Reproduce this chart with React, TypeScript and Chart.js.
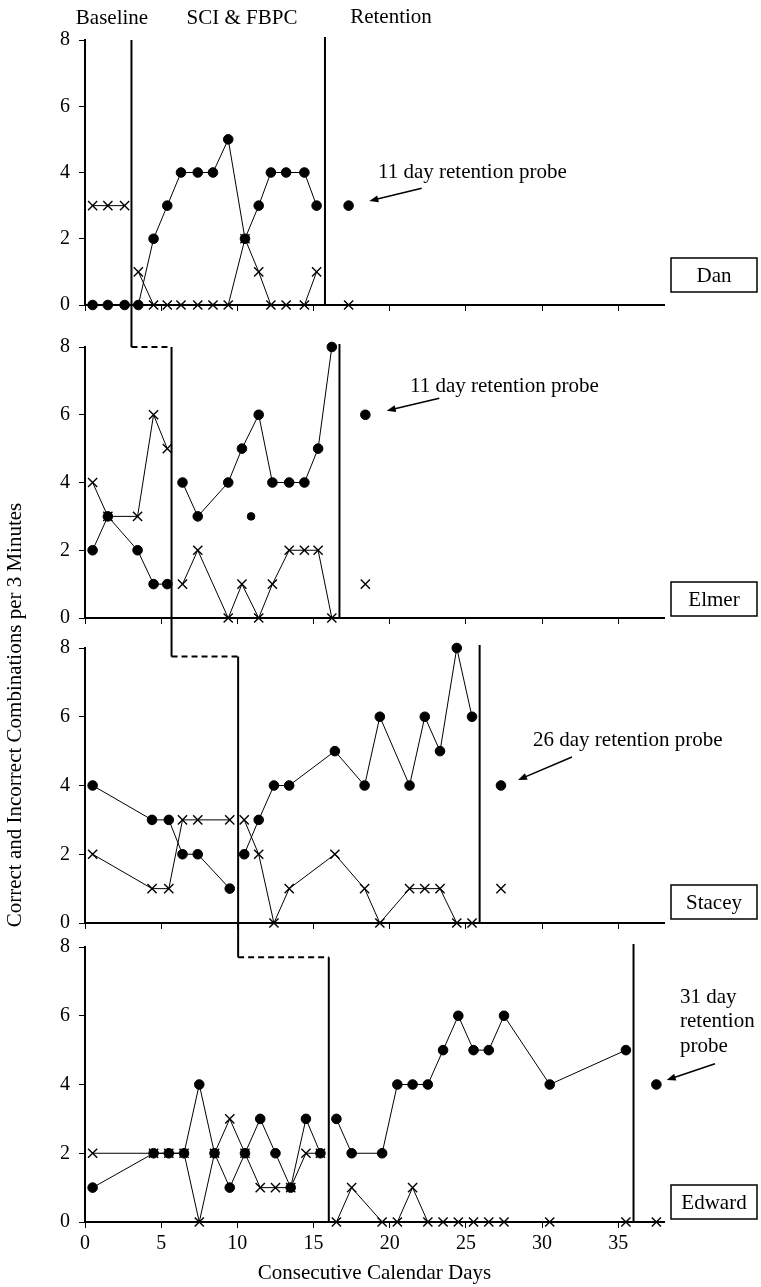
import React, { useEffect, useRef } from 'react';
import { Chart, registerables } from 'chart.js';
Chart.register(...registerables);

// ---------------- data ----------------
const danBaseDays = [0.5, 1.5, 2.6];
const danBaseCorrect = [0, 0, 0];
const danBaseIncorrect = [3, 3, 3];
const danTreatDays = [3.5, 4.5, 5.4, 6.3, 7.4, 8.4, 9.4, 10.5, 11.4, 12.2, 13.2, 14.4, 15.2];
const danTreatCorrect = [0, 2, 3, 4, 4, 4, 5, 2, 3, 4, 4, 4, 3];
const danTreatIncorrect = [1, 0, 0, 0, 0, 0, 0, 2, 1, 0, 0, 0, 1];
const danRetDays = [17.3];
const danRetCorrect = [3];
const danRetIncorrect = [0];
const danPhases = [3.05, 15.75];

const elmerBaseDays = [0.5, 1.5, 3.45, 4.5, 5.4];
const elmerBaseCorrect = [2, 3, 2, 1, 1];
const elmerBaseIncorrect = [4, 3, 3, 6, 5];
const elmerTreatDays = [6.4, 7.4, 9.4, 10.3, 11.4, 12.3, 13.4, 14.4, 15.3, 16.2];
const elmerTreatCorrect = [4, 3, 4, 5, 6, 4, 4, 4, 5, 8];
const elmerTreatIncorrect = [1, 2, 0, 1, 0, 1, 2, 2, 2, 0];
const elmerStrayDays = [10.9];
const elmerStrayCorrect = [3];
const elmerRetDays = [18.4];
const elmerRetCorrect = [6];
const elmerRetIncorrect = [1];
const elmerPhases = [5.68, 16.7];

const staceyBaseDays = [0.5, 4.4, 5.5, 6.4, 7.4, 9.5];
const staceyBaseCorrect = [4, 3, 3, 2, 2, 1];
const staceyBaseIncorrect = [2, 1, 1, 3, 3, 3];
const staceyTreatDays = [10.45, 11.4, 12.4, 13.4, 16.4, 18.35, 19.35, 21.3, 22.3, 23.3, 24.4, 25.4];
const staceyTreatCorrect = [2, 3, 4, 4, 5, 4, 6, 4, 6, 5, 8, 6];
const staceyTreatIncorrect = [3, 2, 0, 1, 2, 1, 0, 1, 1, 1, 0, 0];
const staceyRetDays = [27.3];
const staceyRetCorrect = [4];
const staceyRetIncorrect = [1];
const staceyPhases = [10.05, 25.9];

const edwardBaseDays = [0.5, 4.5, 5.5, 6.5, 7.5, 8.5, 9.5, 10.5, 11.5, 12.5, 13.5, 14.5, 15.45];
const edwardBaseCorrect = [1, 2, 2, 2, 4, 2, 1, 2, 3, 2, 1, 3, 2];
const edwardBaseIncorrect = [2, 2, 2, 2, 0, 2, 3, 2, 1, 1, 1, 2, 2];
const edwardTreatDays = [16.5, 17.5, 19.5, 20.5, 21.5, 22.5, 23.5, 24.5, 25.5, 26.5, 27.5, 30.5, 35.5];
const edwardTreatCorrect = [3, 2, 2, 4, 4, 4, 5, 6, 5, 5, 6, 4, 5];
const edwardTreatIncorrect = [0, 1, 0, 0, 1, 0, 0, 0, 0, 0, 0, 0, 0];
const edwardRetDays = [37.5];
const edwardRetCorrect = [4];
const edwardRetIncorrect = [0];
const edwardPhases = [16, 36];

const participants = ['Dan', 'Elmer', 'Stacey', 'Edward'];
const phaseLabels = ['Baseline', 'SCI & FBPC', 'Retention'];
const probeTexts = [['11 day retention probe'], ['11 day retention probe'], ['26 day retention probe'], ['31 day', 'retention', 'probe']];
const xTicksMax = 38;
const yTicksMax = 8;
const xTitle = 'Consecutive Calendar Days';
const yTitle = 'Correct and Incorrect Combinations per 3 Minutes';
const linkLevels = [null, 8, 7.75, 7.7];

// ---------------- layout / style ----------------
const W = 761;
const H = 1287;
const FONT = '"Liberation Serif", "DejaVu Serif", serif';
const PLOT_LEFT = 85;
const PLOT_RIGHT = 664;
const X_BOX_H = 64;
const PANEL_BOUNDS = [
  { top: 40, bottom: 305 },
  { top: 347, bottom: 618 },
  { top: 648, bottom: 923 },
  { top: 947, bottom: 1222 },
];
const NAME_BOXES = [
  { x: 671, y: 258, w: 86, h: 34 },
  { x: 671, y: 582, w: 86, h: 34 },
  { x: 671, y: 885, w: 86, h: 34 },
  { x: 671, y: 1185, w: 86, h: 34 },
];
const PROBE_TEXT_POS = [
  { x: 378, y: 172, lh: 0 },
  { x: 410, y: 386, lh: 0 },
  { x: 533, y: 740, lh: 0 },
  { x: 680, y: 997, lh: 24.5 },
];
const ARROWS = [
  [421.7, 188.3, 369.3, 201],
  [439.3, 398.3, 386.7, 410.7],
  [572, 757, 518, 780],
  [715, 1063.7, 666.7, 1080],
];
const PHASE_LABEL_POS = [
  { x: 112, y: 18 },
  { x: 242, y: 18 },
  { x: 391, y: 17 },
];
const Y_TITLE_POS = { x: 15, y: 715 };

type Pt = { x: number; y: number | null };
function series(parts: [number[], number[]][]): Pt[] {
  const out: Pt[] = [];
  parts.forEach(([days, vals], i) => {
    if (i > 0) {
      const prev = out[out.length - 1];
      out.push({ x: (prev.x + days[0]) / 2, y: null });
    }
    days.forEach((d, j) => out.push({ x: d, y: vals[j] }));
  });
  return out;
}

const PANELS = [
  {
    correct: series([[danBaseDays, danBaseCorrect], [danTreatDays, danTreatCorrect], [danRetDays, danRetCorrect]]),
    incorrect: series([[danBaseDays, danBaseIncorrect], [danTreatDays, danTreatIncorrect], [danRetDays, danRetIncorrect]]),
    stray: [] as Pt[],
    phases: danPhases,
  },
  {
    correct: series([[elmerBaseDays, elmerBaseCorrect], [elmerTreatDays, elmerTreatCorrect], [elmerRetDays, elmerRetCorrect]]),
    incorrect: series([[elmerBaseDays, elmerBaseIncorrect], [elmerTreatDays, elmerTreatIncorrect], [elmerRetDays, elmerRetIncorrect]]),
    stray: series([[elmerStrayDays, elmerStrayCorrect]]),
    phases: elmerPhases,
  },
  {
    correct: series([[staceyBaseDays, staceyBaseCorrect], [staceyTreatDays, staceyTreatCorrect], [staceyRetDays, staceyRetCorrect]]),
    incorrect: series([[staceyBaseDays, staceyBaseIncorrect], [staceyTreatDays, staceyTreatIncorrect], [staceyRetDays, staceyRetIncorrect]]),
    stray: [] as Pt[],
    phases: staceyPhases,
  },
  {
    correct: series([[edwardBaseDays, edwardBaseCorrect], [edwardTreatDays, edwardTreatCorrect], [edwardRetDays, edwardRetCorrect]]),
    incorrect: series([[edwardBaseDays, edwardBaseIncorrect], [edwardTreatDays, edwardTreatIncorrect], [edwardRetDays, edwardRetIncorrect]]),
    stray: [] as Pt[],
    phases: edwardPhases,
  },
];

function seg(ctx: CanvasRenderingContext2D, x1: number, y1: number, x2: number, y2: number) {
  ctx.beginPath();
  ctx.moveTo(x1, y1);
  ctx.lineTo(x2, y2);
  ctx.stroke();
}

function arrow(ctx: CanvasRenderingContext2D, x1: number, y1: number, x2: number, y2: number) {
  ctx.lineWidth = 1.5;
  const a = Math.atan2(y2 - y1, x2 - x1);
  const L = 9, w = 3.5;
  seg(ctx, x1, y1, x2 - 4 * Math.cos(a), y2 - 4 * Math.sin(a));
  ctx.beginPath();
  ctx.moveTo(x2, y2);
  ctx.lineTo(x2 - L * Math.cos(a) + w * Math.sin(a), y2 - L * Math.sin(a) - w * Math.cos(a));
  ctx.lineTo(x2 - L * Math.cos(a) - w * Math.sin(a), y2 - L * Math.sin(a) + w * Math.cos(a));
  ctx.closePath();
  ctx.fill();
}

function decorPlugin(i: number) {
  return {
    id: 'decor' + i,
    afterDraw(chart: any) {
      const { ctx, chartArea, scales } = chart;
      const xs = scales.x;
      const ys = scales.y;
      const p = PANELS[i];
      ctx.save();
      ctx.strokeStyle = '#000';
      ctx.fillStyle = '#000';
      ctx.lineWidth = 2;
      const p1 = xs.getPixelForValue(p.phases[0]);
      const p2 = xs.getPixelForValue(p.phases[1]);
      const lvl = linkLevels[i];
      const linkY = lvl == null ? chartArea.top : ys.getPixelForValue(lvl);
      seg(ctx, p1, linkY, p1, chartArea.bottom);
      if (i > 0) {
        const prev = xs.getPixelForValue(PANELS[i - 1].phases[0]);
        seg(ctx, prev, PANEL_BOUNDS[i - 1].bottom, prev, linkY);
        ctx.setLineDash([6, 4]);
        seg(ctx, prev, linkY, p1, linkY);
        ctx.setLineDash([]);
      }
      seg(ctx, p2, chartArea.top - 3, p2, chartArea.bottom);

      // participant box
      const b = NAME_BOXES[i];
      ctx.lineWidth = 1.5;
      ctx.strokeRect(b.x, b.y, b.w, b.h);
      ctx.font = `21px ${FONT}`;
      ctx.textAlign = 'center';
      ctx.textBaseline = 'middle';
      ctx.fillText(participants[i], b.x + b.w / 2, b.y + b.h / 2 + 1);

      // probe text + arrow
      const t = PROBE_TEXT_POS[i];
      ctx.textAlign = 'left';
      probeTexts[i].forEach((line, k) => ctx.fillText(line, t.x, t.y + k * t.lh));
      const a = ARROWS[i];
      arrow(ctx, a[0], a[1], a[2], a[3]);

      if (i === 0) {
        ctx.textAlign = 'center';
        phaseLabels.forEach((lab, k) => ctx.fillText(lab, PHASE_LABEL_POS[k].x, PHASE_LABEL_POS[k].y));
      }
      if (i === PANELS.length - 1) {
        ctx.translate(Y_TITLE_POS.x, Y_TITLE_POS.y);
        ctx.rotate(-Math.PI / 2);
        ctx.textAlign = 'center';
        ctx.fillText(yTitle, 0, 0);
      }
      ctx.restore();
    },
  };
}

function makeConfig(i: number): any {
  const p = PANELS[i];
  const bounds = PANEL_BOUNDS[i];
  const isLast = i === PANELS.length - 1;
  const axisGrid = { display: true, drawOnChartArea: false, drawTicks: true, tickLength: 6, color: '#000', lineWidth: 1 };
  const axisBorder = { display: true, color: '#000', width: 2 };
  return {
    type: 'line',
    data: {
      datasets: [
        {
          data: p.correct,
          borderColor: '#000',
          borderWidth: 1,
          backgroundColor: '#000',
          pointStyle: 'circle',
          pointRadius: 4.8,
          pointBackgroundColor: '#000',
          pointBorderColor: '#000',
          pointBorderWidth: 1,
          tension: 0,
          spanGaps: false,
          clip: false,
        },
        {
          data: p.stray,
          showLine: false,
          pointStyle: 'circle',
          pointRadius: 3.8,
          pointBackgroundColor: '#000',
          pointBorderColor: '#000',
          clip: false,
        },
        {
          data: p.incorrect,
          borderColor: '#000',
          borderWidth: 1,
          pointStyle: 'crossRot',
          pointRadius: 6.5,
          pointBorderColor: '#000',
          pointBorderWidth: 1.4,
          tension: 0,
          spanGaps: false,
          clip: false,
        },
      ],
    },
    options: {
      responsive: false,
      animation: false,
      devicePixelRatio: 1,
      events: [],
      layout: {
        padding: {
          left: PLOT_LEFT - 30,
          right: W - PLOT_RIGHT,
          top: bounds.top,
          bottom: H - bounds.bottom - X_BOX_H,
        },
      },
      plugins: { legend: { display: false }, tooltip: { enabled: false } },
      scales: {
        x: {
          type: 'linear',
          min: 0,
          max: xTicksMax,
          afterFit: (s: any) => { s.height = X_BOX_H; },
          ticks: {
            stepSize: 5,
            includeBounds: false,
            autoSkip: false,
            maxRotation: 0,
            color: '#000',
            font: { family: FONT, size: 20 },
            padding: 4,
            callback: (v: any) => (isLast ? String(v) : ''),
          },
          grid: axisGrid,
          border: axisBorder,
          title: {
            display: isLast,
            text: xTitle,
            color: '#000',
            font: { family: FONT, size: 21 },
            padding: 0,
          },
        },
        y: {
          min: 0,
          max: yTicksMax,
          afterFit: (s: any) => { s.width = 30; },
          ticks: { stepSize: 2, color: '#000', font: { family: FONT, size: 20 }, padding: 9 },
          grid: axisGrid,
          border: axisBorder,
        },
      },
    },
    plugins: [decorPlugin(i)],
  };
}

export default function App() {
  const refs = useRef<(HTMLCanvasElement | null)[]>([]);
  useEffect(() => {
    const charts = PANELS.map((_, i) => new Chart(refs.current[i] as HTMLCanvasElement, makeConfig(i)));
    return () => charts.forEach((c) => c.destroy());
  }, []);
  return (
    <div style={{ position: 'absolute', left: 0, top: 0, width: W, height: H, background: '#fff' }}>
      {PANELS.map((_, i) => (
        <canvas
          key={i}
          ref={(el) => { refs.current[i] = el; }}
          width={W}
          height={H}
          style={{ position: 'absolute', left: 0, top: 0, width: W, height: H }}
        />
      ))}
    </div>
  );
}
